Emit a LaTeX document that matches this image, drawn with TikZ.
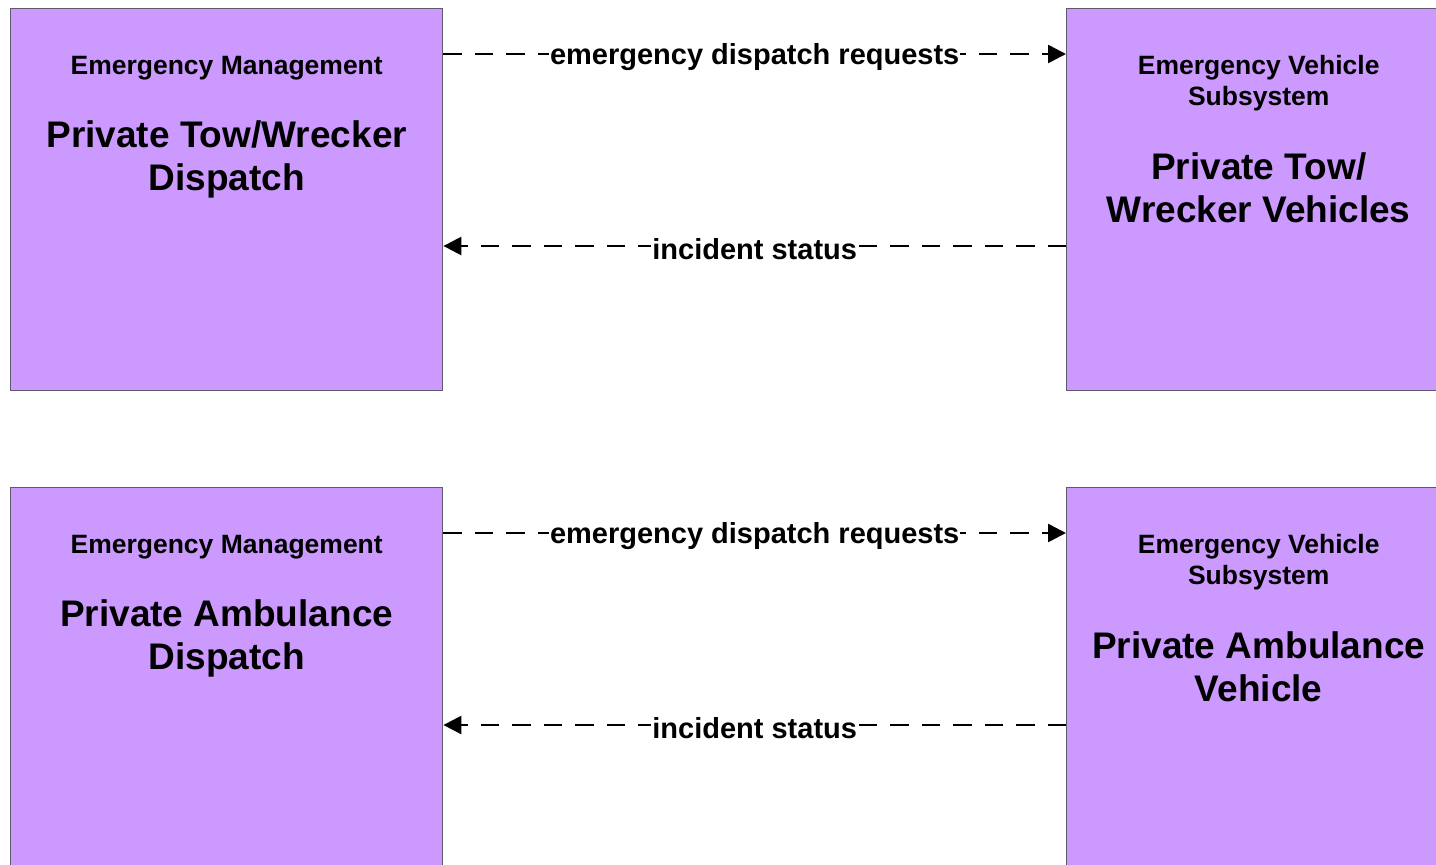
\documentclass[tikz,border=0pt]{standalone}
\usepackage{fontspec}
\setmainfont{Liberation Sans}
\usetikzlibrary{arrows.meta,positioning}
\definecolor{boxfill}{HTML}{CC99FF}
\definecolor{boxline}{HTML}{5F5A6A}
\tikzset{
  sysbox/.style={draw=boxline, line width=1.4pt, fill=boxfill, rectangle, anchor=north west, minimum width=432pt, minimum height=382pt, inner sep=0pt},
  vehbox/.style={sysbox, minimum width=384pt},
  cls/.style={font=\fontsize{26.5}{31.5}\selectfont\bfseries, align=center, inner sep=0pt},
  sysname/.style={font=\fontsize{37}{43}\selectfont\bfseries, align=center, inner sep=0pt},
  flow/.style={-{Triangle[length=18pt, width=18pt]}, line width=2.6pt, dash pattern=on 18.5pt off 13pt},
  lbl/.style={font=\fontsize{29}{34}\selectfont\bfseries, fill=white, inner sep=1pt, yshift=-3pt},
}

\begin{document}
\begin{tikzpicture}[x=1pt, y=-1pt]
\useasboundingbox (0,0) rectangle (1436,865);
\clip (0,0) rectangle (1436,865);
% tow / wrecker
\node[sysbox] (towdsp) at (10,8) {};
\node[vehbox] (towveh) at (1066,8) {};
\node[cls, below=48pt of towdsp.north] (towdsp-cls) {Emergency Management};
\node[sysname, below=112pt of towdsp.north] (towdsp-name) {Private Tow/Wrecker\\Dispatch};
\node[cls, below=47pt of towveh.north] (towveh-cls) {Emergency Vehicle\\Subsystem};
\node[sysname, below=144pt of towveh.north] (towveh-name) {Private Tow/\\Wrecker Vehicles};
\draw[flow] ([yshift=-46pt]towdsp.north east) -- node[lbl] (towreq) {emergency dispatch requests} ([yshift=-46pt]towveh.north west);
\draw[flow] ([yshift=-238pt]towveh.north west) -- node[lbl] (towsts) {incident status} ([yshift=-238pt]towdsp.north east);
% ambulance
\node[sysbox] (ambdsp) at (10,487) {};
\node[vehbox] (ambveh) at (1066,487) {};
\node[cls, below=48pt of ambdsp.north] (ambdsp-cls) {Emergency Management};
\node[sysname, below=112pt of ambdsp.north] (ambdsp-name) {Private Ambulance\\Dispatch};
\node[cls, below=47pt of ambveh.north] (ambveh-cls) {Emergency Vehicle\\Subsystem};
\node[sysname, below=144pt of ambveh.north] (ambveh-name) {Private Ambulance\\Vehicle};
\draw[flow] ([yshift=-46pt]ambdsp.north east) -- node[lbl] (ambreq) {emergency dispatch requests} ([yshift=-46pt]ambveh.north west);
\draw[flow] ([yshift=-238pt]ambveh.north west) -- node[lbl] (ambsts) {incident status} ([yshift=-238pt]ambdsp.north east);
\end{tikzpicture}
\end{document}
